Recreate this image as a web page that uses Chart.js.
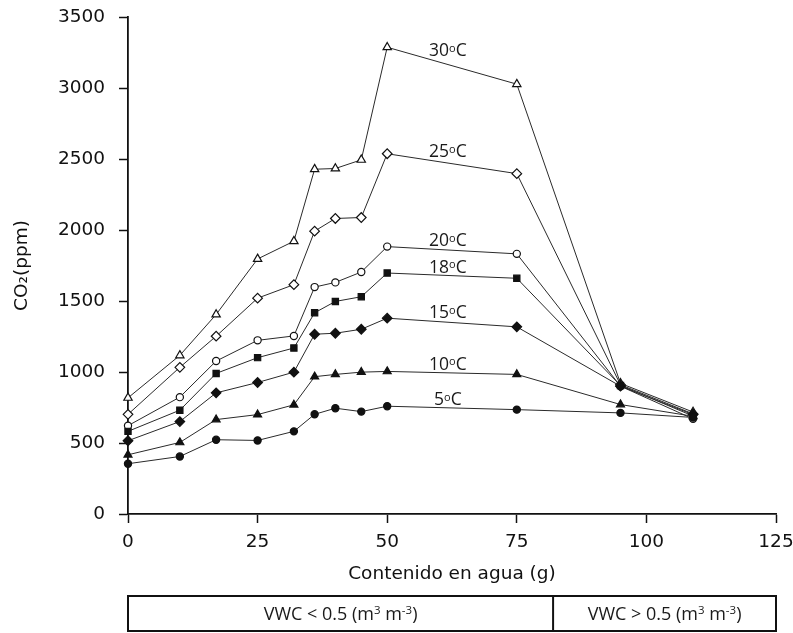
<!DOCTYPE html>
<html><head><meta charset="utf-8">
<script src="https://cdn.jsdelivr.net/npm/chart.js@4.4.0/dist/chart.umd.min.js"></script>
<style>html,body{margin:0;padding:0;background:#fff}canvas{display:block}</style>
</head><body>
<canvas id="c" width="793" height="633"></canvas>
<script>
// ---- data ----
const waterContent = [0, 10, 17, 25, 32, 36, 40, 45, 50, 75, 95, 109];
const co2_5C  = [354, 405, 523, 518, 582, 702, 745, 721, 759, 735, 712, 680];
const co2_10C = [417, 504, 665, 700, 769, 967, 983, 999, 1004, 983, 771, 688];
const co2_15C = [516, 651, 853, 926, 999, 1266, 1273, 1301, 1379, 1318, 900, 700];
const co2_18C = [582, 731, 990, 1101, 1169, 1417, 1497, 1530, 1697, 1660, 905, 690];
const co2_20C = [622, 823, 1077, 1223, 1254, 1598, 1631, 1704, 1883, 1832, 900, 670];
const co2_25C = [702, 1033, 1252, 1520, 1615, 1992, 2081, 2088, 2537, 2397, 910, 705];
const co2_30C = [818, 1117, 1405, 1796, 1921, 2428, 2433, 2494, 3287, 3027, 920, 718];
const temperatures = ['5', '10', '15', '18', '20', '25', '30'];
const xTickValues = [0, 25, 50, 75, 100, 125];
const yTickValues = [0, 500, 1000, 1500, 2000, 2500, 3000, 3500];
const vwcLimit = 82;
const vwcLabels = [['VWC < 0.5 (m', '3', ' m', '-3', ')'], ['VWC > 0.5 (m', '3', ' m', '-3', ')']];

// ---- presentation ----
const seriesValues = [co2_5C, co2_10C, co2_15C, co2_18C, co2_20C, co2_25C, co2_30C];
const markerStyle = [
  {shape: 'circle', fill: true, r: 3.6},
  {shape: 'triangle', fill: true, r: 4.6},
  {shape: 'rectRot', fill: true, r: 4.8},
  {shape: 'rect', fill: true, r: 4.4},
  {shape: 'circle', fill: false, r: 3.6},
  {shape: 'rectRot', fill: false, r: 4.8},
  {shape: 'triangle', fill: false, r: 4.8}
];
// where each temperature label sits, in data units
const labelAnchorX = 61.7;
const labelAnchorY = [815, 1066, 1427, 1749, 1935, 2562, 3272];

const datasets = seriesValues.map((vals, i) => ({
  label: temperatures[i] + 'ºC',
  data: waterContent.map((x, k) => ({x: x, y: vals[k]})),
  borderColor: '#2a2a2a',
  borderWidth: 1,
  pointStyle: markerStyle[i].shape,
  pointRadius: markerStyle[i].r,
  pointBorderWidth: 1.2,
  pointBorderColor: '#111',
  pointBackgroundColor: markerStyle[i].fill ? '#111' : '#fff',
  tension: 0,
  fill: false,
  clip: false
}));

function drawRuns(ctx, runs, cx, baseline, big, small, rise) {
  let total = 0;
  const widths = runs.map(r => { ctx.font = r.sup ? small : big; const w = ctx.measureText(r.t).width; total += w; return w; });
  let x = cx - total / 2;
  ctx.textAlign = 'left';
  ctx.textBaseline = 'alphabetic';
  runs.forEach((r, i) => {
    ctx.font = r.sup ? small : big;
    ctx.fillText(r.t, x, r.sup ? baseline - rise : baseline);
    x += widths[i];
  });
}

const annotations = {
  id: 'annotations',
  afterDatasetsDraw(chart) {
    const ctx = chart.ctx, xs = chart.scales.x, ys = chart.scales.y;
    ctx.save();
    ctx.fillStyle = '#1a1a1a';
    temperatures.forEach((t, i) => {
      const cx = xs.getPixelForValue(labelAnchorX);
      const cy = ys.getPixelForValue(labelAnchorY[i]);
      drawRuns(ctx, [{t: t}, {t: 'o', sup: true}, {t: 'C'}], cx, cy + 7,
        '17.5px "Open Sans"', '11px "Open Sans"', 4.5);
    });
    ctx.restore();
  },
  afterDraw(chart) {
    const ctx = chart.ctx, xs = chart.scales.x;
    const left = xs.getPixelForValue(xTickValues[0]);
    const right = xs.getPixelForValue(xTickValues[xTickValues.length - 1]);
    const mid = xs.getPixelForValue(vwcLimit);
    const top = chart.height - 37, bottom = chart.height - 2;
    ctx.save();
    ctx.strokeStyle = '#111';
    ctx.lineWidth = 2;
    ctx.strokeRect(left, top, right - left, bottom - top);
    ctx.beginPath(); ctx.moveTo(mid, top); ctx.lineTo(mid, bottom); ctx.stroke();
    ctx.fillStyle = '#1a1a1a';
    const centers = [(left + mid) / 2, (mid + right) / 2];
    vwcLabels.forEach((parts, i) => {
      const runs = parts.map((p, k) => ({t: p, sup: k % 2 === 1}));
      drawRuns(ctx, runs, centers[i], (top + bottom) / 2 + 6, '18px "Open Sans"', '11.5px "Open Sans"', 6);
    });
    ctx.restore();
  }
};

const axisFont = {family: '"DejaVu Sans"', size: 18.5};

new Chart(document.getElementById('c'), {
  type: 'line',
  data: {datasets: datasets},
  plugins: [annotations],
  options: {
    responsive: false,
    animation: false,
    layout: {padding: {top: 17, right: 17, left: 0, bottom: 0}},
    plugins: {legend: {display: false}, tooltip: {enabled: false}},
    scales: {
      x: {
        type: 'linear',
        min: xTickValues[0], max: xTickValues[xTickValues.length - 1],
        afterBuildTicks: s => { s.ticks = xTickValues.map(v => ({value: v})); },
        afterFit: s => { s.height = 119; s.paddingLeft = 0; s.paddingRight = 0; },
        grid: {display: true, drawOnChartArea: false, drawTicks: true, tickLength: 9, tickWidth: 1.5, tickColor: '#111'},
        border: {display: true, color: '#111', width: 1.8},
        ticks: {color: '#111', font: axisFont, padding: 8, maxRotation: 0, callback: v => String(v)},
        title: {display: true, text: 'Contenido en agua (g)', color: '#111', font: axisFont, padding: {top: 0, bottom: 48}}
      },
      y: {
        min: yTickValues[0], max: yTickValues[yTickValues.length - 1],
        afterBuildTicks: s => { s.ticks = yTickValues.map(v => ({value: v})); },
        afterFit: s => { s.width = 128; s.paddingTop = 0; s.paddingBottom = 0; },
        grid: {display: true, drawOnChartArea: false, drawTicks: true, tickLength: 9, tickWidth: 1.5, tickColor: '#111'},
        border: {display: true, color: '#111', width: 1.8},
        ticks: {color: '#111', font: axisFont, padding: 14, callback: v => String(v)},
        title: {display: true, text: 'CO₂(ppm)', color: '#111', font: axisFont, padding: {top: 11, bottom: 0}}
      }
    }
  }
});
</script>
</body></html>
